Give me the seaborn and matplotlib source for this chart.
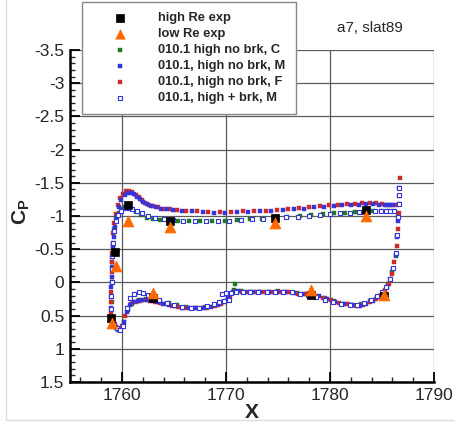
import numpy as np
import pandas as pd
import matplotlib
matplotlib.use("Agg")
import matplotlib.pyplot as plt
from matplotlib.lines import Line2D
from matplotlib.ticker import MultipleLocator, FuncFormatter
import seaborn as sns

# experiment
high_x = [1758.9, 1759.3, 1760.6, 1763.0, 1764.6, 1774.7, 1778.2, 1783.5, 1785.2]
high_cp = [0.53, -0.46, -1.16, 0.23, -0.93, -0.97, 0.19, -1.09, 0.2]
low_x = [1759.0, 1759.4, 1760.6, 1763.0, 1764.6, 1774.7, 1778.2, 1783.5, 1785.2]
low_cp = [0.61, -0.24, -0.93, 0.16, -0.84, -0.89, 0.11, -1.0, 0.19]

# 010.1 high no brk, C
c_x_up = [1759.0, 1759.0, 1759.05, 1759.1, 1759.2, 1759.4, 1759.7, 1760.0, 1760.3, 1760.6,
          1760.9, 1761.3, 1761.8, 1762.4, 1763.0, 1763.7, 1764.5, 1765.4, 1766.4, 1767.5,
          1768.7, 1769.9, 1771.1, 1772.3, 1773.5, 1774.7, 1775.9, 1777.1, 1778.2, 1779.3,
          1780.4, 1781.4, 1782.4, 1783.3, 1784.1, 1784.9, 1785.6, 1786.2]
c_cp_up = [0.3, 0.0, -0.3, -0.55, -0.8, -0.97, -1.04, -1.1, -1.13, -1.14,
           -1.11, -1.06, -1.01, -0.97, -0.95, -0.94, -0.93, -0.92, -0.92, -0.92,
           -0.93, -0.93, -0.94, -0.95, -0.96, -0.97, -0.99, -1.0, -1.01, -1.03,
           -1.04, -1.05, -1.06, -1.06, -1.07, -1.07, -1.07, -1.08]
c_x_lo = [1759.1, 1759.4, 1759.8, 1760.2, 1760.6, 1761.0, 1761.6, 1762.3, 1763.0, 1763.7,
          1764.5, 1765.3, 1766.2, 1767.1, 1768.0, 1768.9, 1769.6, 1770.2, 1770.8, 1770.85,
          1771.4, 1772.3, 1773.2, 1774.1, 1775.0, 1775.9, 1776.8, 1777.7, 1778.6, 1779.5,
          1780.4, 1781.3, 1782.2, 1783.0, 1783.8, 1784.5, 1785.1, 1785.6, 1786.0, 1786.3,
          1786.45, 1786.55]
c_cp_lo = [0.6, 0.68, 0.7, 0.6, 0.42, 0.32, 0.27, 0.25, 0.25, 0.28,
           0.31, 0.34, 0.37, 0.38, 0.37, 0.34, 0.3, 0.24, 0.12, 0.02,
           0.13, 0.14, 0.15, 0.14, 0.13, 0.14, 0.16, 0.17, 0.2, 0.24,
           0.28, 0.32, 0.34, 0.33, 0.28, 0.22, 0.14, 0.03, -0.15, -0.4,
           -0.7, -1.0]

# 010.1, high no brk, M
m_x_up = [1758.9, 1758.92, 1758.95, 1758.97, 1759.0, 1759.02, 1759.05, 1759.1, 1759.2, 1759.3,
          1759.5, 1759.7, 1759.95, 1760.25, 1760.55, 1760.85, 1761.15, 1761.45, 1761.75, 1762.05,
          1762.4, 1762.8, 1763.25, 1763.75, 1764.3, 1764.95, 1765.75, 1766.7, 1767.75, 1768.85,
          1769.95, 1771.05, 1772.15, 1773.25, 1774.35, 1775.45, 1776.5, 1777.5, 1778.5, 1779.45,
          1780.35, 1781.2, 1782.0, 1782.75, 1783.45, 1784.1, 1784.7, 1785.25, 1785.7, 1786.1]
m_cp_up = [0.52, 0.38, 0.22, 0.07, -0.08, -0.23, -0.38, -0.53, -0.68, -0.83,
           -0.98, -1.13, -1.24, -1.31, -1.35, -1.35, -1.33, -1.29, -1.25, -1.21,
           -1.18, -1.15, -1.13, -1.11, -1.1, -1.09, -1.08, -1.07, -1.06, -1.05,
           -1.05, -1.06, -1.06, -1.07, -1.08, -1.09, -1.1, -1.11, -1.13, -1.14,
           -1.15, -1.16, -1.17, -1.17, -1.18, -1.18, -1.17, -1.16, -1.16, -1.16]
m_x_lo = [1759.2, 1759.4, 1759.6, 1759.85, 1760.15, 1760.45, 1760.75, 1761.1, 1761.5, 1761.95,
          1762.45, 1762.95, 1763.45, 1763.95, 1764.5, 1765.1, 1765.75, 1766.45, 1767.15, 1767.85,
          1768.55, 1769.2, 1769.75, 1770.2, 1770.65, 1771.2, 1771.85, 1772.55, 1773.3, 1774.1,
          1774.9, 1775.7, 1776.5, 1777.3, 1778.1, 1778.9, 1779.7, 1780.5, 1781.3, 1782.1,
          1782.85, 1783.5, 1784.1, 1784.65, 1785.1, 1785.5, 1785.8, 1786.1, 1786.3, 1786.45,
          1786.55, 1786.62, 1786.68]
m_cp_lo = [0.62, 0.67, 0.71, 0.72, 0.6, 0.44, 0.34, 0.3, 0.28, 0.27,
           0.27, 0.28, 0.3, 0.32, 0.34, 0.36, 0.38, 0.39, 0.39, 0.39,
           0.37, 0.34, 0.3, 0.24, 0.15, 0.13, 0.14, 0.15, 0.15, 0.14,
           0.14, 0.14, 0.16, 0.17, 0.19, 0.21, 0.25, 0.29, 0.32, 0.34,
           0.35, 0.32, 0.28, 0.22, 0.16, 0.07, -0.05, -0.2, -0.42, -0.68,
           -0.92, -1.18, -1.42]

# 010.1, high no brk, F
f_x_up = [1758.95, 1758.95, 1758.97, 1759.0, 1759.0, 1759.02, 1759.05, 1759.1, 1759.15, 1759.25,
          1759.4, 1759.6, 1759.85, 1760.1, 1760.4, 1760.7, 1761.0, 1761.3, 1761.6, 1761.9,
          1762.2, 1762.6, 1763.0, 1763.5, 1764.0, 1764.6, 1765.3, 1766.2, 1767.2, 1768.3,
          1769.4, 1770.5, 1771.6, 1772.7, 1773.8, 1774.9, 1776.0, 1777.0, 1778.0, 1779.0,
          1779.9, 1780.8, 1781.6, 1782.4, 1783.1, 1783.8, 1784.4, 1785.0, 1785.5, 1785.9,
          1786.3]
f_cp_up = [0.45, 0.3, 0.15, 0.0, -0.15, -0.3, -0.45, -0.6, -0.75, -0.9,
           -1.03, -1.16, -1.27, -1.33, -1.37, -1.38, -1.36, -1.32, -1.28, -1.24,
           -1.2, -1.17, -1.15, -1.13, -1.11, -1.1, -1.09, -1.08, -1.07, -1.06,
           -1.06, -1.06, -1.07, -1.07, -1.08, -1.09, -1.1, -1.12, -1.13, -1.15,
           -1.16, -1.17, -1.18, -1.18, -1.19, -1.19, -1.19, -1.18, -1.17, -1.17,
           -1.17]
f_x_lo = [1759.1, 1759.3, 1759.5, 1759.75, 1760.0, 1760.3, 1760.6, 1760.9, 1761.3, 1761.7,
          1762.2, 1762.7, 1763.2, 1763.7, 1764.2, 1764.8, 1765.4, 1766.1, 1766.8, 1767.5,
          1768.2, 1768.9, 1769.5, 1770.0, 1770.4, 1770.9, 1771.5, 1772.2, 1772.9, 1773.7,
          1774.5, 1775.3, 1776.1, 1776.9, 1777.7, 1778.5, 1779.3, 1780.1, 1780.9, 1781.7,
          1782.5, 1783.2, 1783.8, 1784.4, 1784.9, 1785.3, 1785.65, 1785.95, 1786.2, 1786.4,
          1786.5, 1786.6, 1786.65, 1786.7]
f_cp_lo = [0.58, 0.64, 0.68, 0.7, 0.66, 0.5, 0.38, 0.32, 0.29, 0.28,
           0.27, 0.28, 0.29, 0.31, 0.33, 0.35, 0.37, 0.38, 0.39, 0.39,
           0.38, 0.36, 0.32, 0.28, 0.22, 0.14, 0.14, 0.15, 0.15, 0.15,
           0.14, 0.14, 0.15, 0.17, 0.18, 0.2, 0.23, 0.27, 0.31, 0.33,
           0.35, 0.34, 0.3, 0.25, 0.19, 0.12, 0.02, -0.12, -0.3, -0.55,
           -0.8, -1.05, -1.3, -1.57]

# 010.1, high + brk, M
b_x_up = [1758.95, 1758.97, 1759.0, 1759.02, 1759.05, 1759.1, 1759.2, 1759.4, 1759.65, 1759.95,
          1760.3, 1760.65, 1761.0, 1761.4, 1761.9, 1762.5, 1763.2, 1764.0, 1764.9, 1765.9,
          1767.0, 1768.1, 1769.2, 1770.3, 1771.4, 1772.5, 1773.6, 1774.7, 1775.8, 1776.9,
          1778.0, 1779.0, 1780.0, 1781.0, 1781.9, 1782.8, 1783.6, 1784.3, 1784.9, 1785.4,
          1785.8, 1786.2]
b_cp_up = [0.4, 0.2, 0.0, -0.2, -0.4, -0.6, -0.78, -0.92, -1.02, -1.08,
           -1.12, -1.12, -1.1, -1.07, -1.04, -1.0, -0.97, -0.95, -0.94, -0.93,
           -0.93, -0.92, -0.93, -0.93, -0.94, -0.95, -0.96, -0.97, -0.98, -0.99,
           -1.0, -1.02, -1.03, -1.04, -1.05, -1.06, -1.06, -1.07, -1.07, -1.07,
           -1.07, -1.07]
b_x_lo = [1759.25, 1759.5, 1759.8, 1760.1, 1760.45, 1760.8, 1761.2, 1761.6, 1762.0, 1762.5,
          1763.0, 1763.6, 1764.3, 1765.0, 1765.8, 1766.6, 1767.4, 1768.2, 1768.8, 1769.3,
          1769.8, 1770.3, 1769.6, 1770.0, 1770.5, 1771.0, 1771.6, 1772.3, 1773.1, 1773.9,
          1774.7, 1775.5, 1776.3, 1777.1, 1777.9, 1778.7, 1779.5, 1780.3, 1781.1, 1781.9,
          1782.6, 1783.3, 1783.9, 1784.5, 1785.0, 1785.4, 1785.75, 1786.05, 1786.3, 1786.45,
          1786.55, 1786.6, 1786.65, 1786.68]
b_cp_lo = [0.63, 0.69, 0.72, 0.65, 0.38, 0.24, 0.17, 0.15, 0.16, 0.19,
           0.23, 0.27, 0.31, 0.34, 0.37, 0.38, 0.38, 0.36, 0.33, 0.3,
           0.28, 0.27, 0.17, 0.16, 0.16, 0.14, 0.14, 0.15, 0.15, 0.15,
           0.14, 0.14, 0.15, 0.17, 0.19, 0.22, 0.26, 0.3, 0.33, 0.34,
           0.34, 0.31, 0.27, 0.21, 0.15, 0.07, -0.05, -0.22, -0.45, -0.72,
           -0.98, -1.18, -1.32, -1.42]

sns.set_style("white")
plt.rcParams['font.family'] = ['Liberation Sans', 'DejaVu Sans']
plt.rcParams['axes.unicode_minus'] = False
plt.rcParams['mathtext.fontset'] = 'custom'
plt.rcParams['mathtext.rm'] = 'Liberation Sans'
plt.rcParams['mathtext.bf'] = 'Liberation Sans:bold'

fig = plt.figure(figsize=(4.55, 4.22), dpi=100)
ax = fig.add_axes([70 / 455, 1 - 382 / 422, 364 / 455, 332 / 422])

green = '#1f7a1f'
blue = '#3535dc'
red = '#cf2a2a'
orange = '#ff6a00'

sns.scatterplot(x=high_x, y=high_cp, marker='s', s=36, color='black', edgecolor='black',
                linewidth=0.5, label='high Re exp', zorder=6, ax=ax)
sns.scatterplot(x=low_x, y=low_cp, marker='^', s=62, color=orange, edgecolor=orange,
                linewidth=0.5, label='low Re exp', zorder=7, ax=ax)
sns.scatterplot(x=c_x_up + c_x_lo, y=c_cp_up + c_cp_lo, marker='s', s=7, color=green,
                edgecolor=green, linewidth=0.3, label='010.1 high no brk, C', zorder=3, ax=ax)
sns.scatterplot(x=m_x_up + m_x_lo, y=m_cp_up + m_cp_lo, marker='s', s=7, color=blue,
                edgecolor=blue, linewidth=0.3, label='010.1, high no brk, M', zorder=4, ax=ax)
sns.scatterplot(x=f_x_up + f_x_lo, y=f_cp_up + f_cp_lo, marker='s', s=7, color=red,
                edgecolor=red, linewidth=0.3, label='010.1, high no brk, F', zorder=3.5, ax=ax)
sns.scatterplot(x=b_x_up + b_x_lo, y=b_cp_up + b_cp_lo, marker='s', s=11, color='white',
                edgecolor=blue, linewidth=0.8, label='010.1, high + brk, M', zorder=5, ax=ax)

ax.set_xlim(1755, 1790)
ax.set_ylim(1.5, -3.5)
ax.set_xticks([1760, 1770, 1780, 1790])
ax.set_yticks(np.arange(-3.5, 1.51, 0.5))
ax.xaxis.set_minor_locator(MultipleLocator(2))
ax.yaxis.set_minor_locator(MultipleLocator(0.1))
ax.yaxis.set_major_formatter(FuncFormatter(lambda v, p: '%g' % round(v, 2)))
ax.grid(True, which='major', color='#5a5a5a', linewidth=0.9)
ax.set_axisbelow(True)
ax.tick_params(which='major', direction='in', length=7, width=1.3, labelsize=12.5, pad=4,
               color='black', left=True, bottom=True)
ax.tick_params(which='minor', direction='in', length=3.5, width=1.0, left=True, bottom=True)
for side in ['top', 'right']:
    ax.spines[side].set_visible(False)
for side in ['left', 'bottom']:
    ax.spines[side].set_linewidth(1.8)
    ax.spines[side].set_color('black')
ax.set_xlabel('')
ax.set_ylabel('')

leg = ax.legend(loc='upper left', bbox_to_anchor=(82 / 455, 1 - 2 / 422),
                bbox_transform=fig.transFigure, frameon=True, fancybox=False,
                edgecolor='#888888', framealpha=1, prop={'weight': 'bold', 'size': 9.3},
                handlelength=4.3, handletextpad=0.8, borderpad=0.8, labelspacing=0.3,
                borderaxespad=0)
leg.get_frame().set_linewidth(1.0)
legend_sizes = [26, 45, 5, 5, 5, 8]
for h, sz in zip(leg.legend_handles, legend_sizes):
    h.set_sizes([sz])

fig.text(370 / 455, 1 - 28 / 422, 'a7, slat89', ha='center', va='center', fontsize=11)
fig.text(21 / 455, 1 - 212 / 422, r'$\mathbf{C_P}$', rotation=90, ha='center', va='center',
         fontsize=15)
fig.text(252 / 455, 1 - 418 / 422, 'X', ha='center', va='baseline', fontsize=15,
         fontweight='bold')

fig.add_artist(Line2D([6 / 455, 6 / 455], [1 - 420 / 422, 1], transform=fig.transFigure,
                      color='#dddddd', linewidth=1))
fig.add_artist(Line2D([6 / 455, 1], [1 - 420 / 422, 1 - 420 / 422], transform=fig.transFigure,
                      color='#dddddd', linewidth=1))

fig.savefig('out.png', dpi=100)
